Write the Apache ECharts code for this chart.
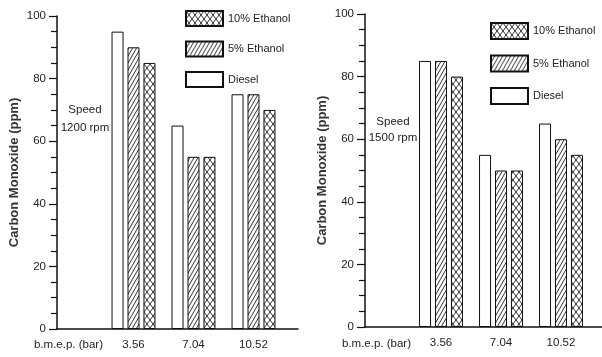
<!DOCTYPE html>
<html>
<head>
<meta charset="utf-8">
<script src="https://cdn.jsdelivr.net/npm/echarts@6/dist/echarts.min.js"></script>
<style>
html, body { margin: 0; padding: 0; background: #fff; }
#myChart { width: 602px; height: 357px; }
</style>
</head>
<body>
<div id="myChart"></div>
<script>
// 数据
const categories = ['3.56', '7.04', '10.52']
const diesel1200 = [95, 65, 75]
const eth5_1200 = [90, 55, 75]
const eth10_1200 = [85, 55, 70]
const diesel1500 = [85, 55, 65]
const eth5_1500 = [85, 50, 60]
const eth10_1500 = [80, 50, 55]
const legendNames = ['10% Ethanol', '5% Ethanol', 'Diesel']

const FONT = '"Liberation Sans", Arial, sans-serif'
const TXT = '#222'
const FS = 11.5

// 填充图案
function hatch(cross) {
    const w = cross ? 6 : 4, h = cross ? 8 : 7
    const c = document.createElement('canvas')
    c.width = w; c.height = h
    const g = c.getContext('2d')
    g.fillStyle = '#fff'
    g.fillRect(0, 0, w, h)
    g.strokeStyle = '#333'
    g.lineWidth = 1
    g.beginPath()
    g.moveTo(-w, 2 * h); g.lineTo(2 * w, -h)
    g.moveTo(-w, h); g.lineTo(w, -h)
    g.moveTo(0, 2 * h); g.lineTo(2 * w, 0)
    if (cross) {
        g.moveTo(-w, -h); g.lineTo(2 * w, 2 * h)
        g.moveTo(0, -h); g.lineTo(2 * w, h)
        g.moveTo(-w, 0); g.lineTo(w, 2 * h)
    }
    g.stroke()
    return { image: c, repeat: 'repeat' }
}
const diagFill = hatch(false)
const crossFill = hatch(true)

function frameY(gridIndex) {
    return {
        type: 'value', gridIndex: gridIndex, min: 0, max: 100, interval: 20,
        name: 'Carbon Monoxide (ppm)', nameLocation: 'middle', nameGap: 36,
        nameTextStyle: { color: '#333', fontSize: 13, fontWeight: 'bold', fontFamily: FONT },
        axisLine: { show: true, lineStyle: { color: '#111', width: 1.5 } },
        axisTick: { show: true, inside: false, length: 8, lineStyle: { color: '#111', width: 1.2 } },
        minorTick: { show: true, splitNumber: 4, length: 6, lineStyle: { color: '#111', width: 1.2 } },
        axisLabel: { color: TXT, fontSize: FS, fontFamily: FONT, margin: 11 },
        splitLine: { show: false }
    }
}
function frameX(gridIndex) {
    return {
        type: 'value', gridIndex: gridIndex, min: 0, max: 1,
        axisLine: { show: true, onZero: false, lineStyle: { color: '#111', width: 1.5 } },
        axisTick: { show: false }, axisLabel: { show: false }, splitLine: { show: false }
    }
}
function barX(gridIndex) {
    return {
        type: 'category', gridIndex: gridIndex, data: categories,
        axisLine: { show: false }, axisTick: { show: false },
        axisLabel: { color: TXT, fontSize: FS, fontFamily: FONT, margin: 10 }
    }
}
function barY(gridIndex) {
    return { type: 'value', gridIndex: gridIndex, min: 0, max: 100, show: false }
}
function bars(idx, d, e5, e10) {
    const common = { type: 'bar', xAxisIndex: idx, yAxisIndex: idx, barWidth: 12, barGap: '33%', animation: false }
    return [
        Object.assign({ name: 'Diesel', data: d, itemStyle: { color: '#fff', borderColor: '#111', borderWidth: 1 } }, common),
        Object.assign({ name: '5% Ethanol', data: e5, itemStyle: { color: diagFill, borderColor: '#111', borderWidth: 1 } }, common),
        Object.assign({ name: '10% Ethanol', data: e10, itemStyle: { color: crossFill, borderColor: '#111', borderWidth: 1 } }, common)
    ]
}
function legend(left, top, h, gap) {
    return {
        data: legendNames, orient: 'vertical', left: left, top: top, padding: 0,
        itemWidth: 37, itemHeight: h, itemGap: gap, icon: 'rect', selectedMode: false,
        textStyle: { color: TXT, fontSize: 11, fontFamily: FONT }
    }
}
function label(x, y, s, lh) {
    return {
        type: 'text', x: x, y: y,
        style: { text: s, fill: TXT, font: FS + 'px ' + FONT, align: 'center', verticalAlign: 'middle', lineHeight: lh || 14 }
    }
}

let myChart = echarts.init(document.getElementById('myChart'))
let option = {
    animation: false,
    grid: [
        { left: 103.5, width: 180, top: 16, bottom: 28 },
        { left: 57, width: 241, top: 16, bottom: 28 },
        { left: 411, width: 180, top: 14, bottom: 30 },
        { left: 365, width: 237, top: 14, bottom: 30 }
    ],
    xAxis: [barX(0), frameX(1), barX(2), frameX(3)],
    yAxis: [barY(0), frameY(1), barY(2), frameY(3)],
    legend: [legend(185, 10, 15, 13.5), legend(490, 22, 16, 14.5)],
    graphic: [
        label(68.5, 345, 'b.m.e.p. (bar)'),
        label(376.5, 344, 'b.m.e.p. (bar)'),
        label(85, 119, 'Speed\n1200 rpm', 18),
        label(393, 130, 'Speed\n1500 rpm', 16)
    ],
    series: bars(0, diesel1200, eth5_1200, eth10_1200).concat(bars(2, diesel1500, eth5_1500, eth10_1500))
}
myChart.setOption(option)

window.addEventListener('resize', () => {
    myChart.resize()
})
</script>
</body>
</html>
